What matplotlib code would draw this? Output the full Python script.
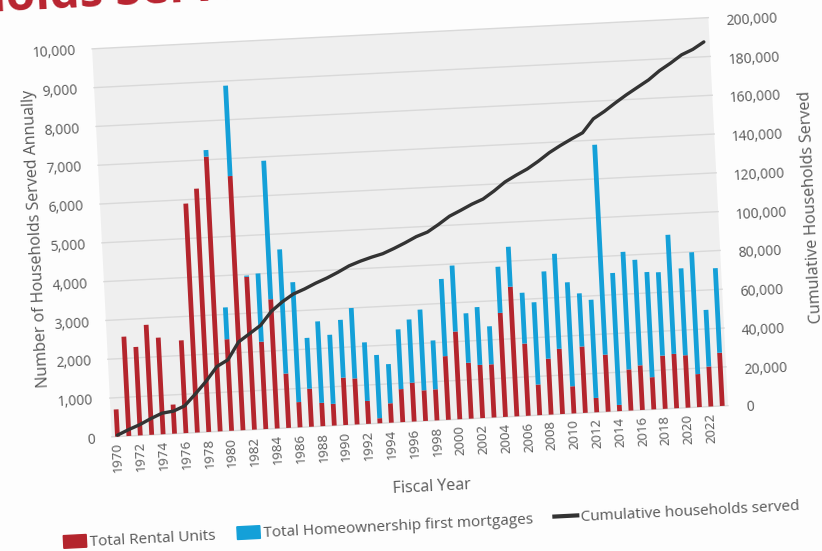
import matplotlib
matplotlib.use('Agg')
import matplotlib.pyplot as plt
import numpy as np
from matplotlib.artist import Artist
from matplotlib.ticker import FuncFormatter, MultipleLocator
from matplotlib.patches import Patch
from matplotlib.lines import Line2D
from matplotlib.text import Text
from matplotlib.transforms import Affine2D

# households served each fiscal year
years = list(range(1970, 2024))
rental = [700, 2560, 2280, 2835, 2490, 750, 2390, 5900, 6270, 7080,
          2360, 6550, 3940, 2250, 3330, 1400, 650, 980, 600, 560,
          1220, 1185, 590, 130, 500, 850, 1000, 790, 800, 1640,
          2260, 1440, 1370, 1370, 2680, 3340, 1860, 790, 1440, 1680,
          700, 1710, 370, 1470, 160, 1060, 1150, 830, 1370, 1400,
          1350, 850, 1030, 1370]
homeownership = [0, 0, 0, 0, 0, 0, 0, 0, 0, 170,
                 820, 2330, 30, 1760, 3570, 3200, 3090, 1310, 2100, 1780,
                 1490, 1815, 1510, 1630, 1010, 1540, 1630, 2080, 1260, 1990,
                 1700, 1275, 1490, 980, 1190, 1030, 1310, 2120, 2250, 2450,
                 2680, 1370, 2530, 5410, 3400, 3030, 2720, 2710, 2150, 3070,
                 2240, 3140, 1460, 2180]

RED = '#b4252d'
BLUE = '#14a0d8'
GRAY = '#595959'
TILT = 2.9  # the whole slide sits slightly askew


def tilt(fig, degrees):
    """Rotate every drawn piece of the figure about its centre."""
    fig.canvas.draw()
    w, h = fig.canvas.get_width_height()
    rot = Affine2D().rotate_deg_around(w / 2, h / 2, degrees)
    seen = set()
    for a in fig.findobj():
        if id(a) in seen or a is fig.patch:
            continue
        seen.add(id(a))
        if not isinstance(a, (Text, Line2D, Patch)):
            continue
        # plain artist transform (patches add their own patch transform on top)
        a.set_transform(Artist.get_transform(a) + rot)
        a.set_clip_on(False)
        if isinstance(a, Text):
            a.set_rotation(a.get_rotation() + degrees)


plt.rcParams['font.family'] = ['Open Sans', 'DejaVu Sans']

x = np.arange(len(years))
totals = np.array(rental) + np.array(homeownership)
cumulative = np.cumsum(totals)

fig = plt.figure(figsize=(8.22, 5.51), dpi=100)
fig.patch.set_facecolor('#fdfdfd')
ax = fig.add_axes([104 / 822, 1 - 421.5 / 551, 617 / 822, 388.5 / 551])
ax.set_facecolor('#efefef')

ax.bar(x, rental, width=0.42, color=RED, zorder=3)
ax.bar(x, homeownership, bottom=rental, width=0.42, color=BLUE, zorder=3)

ax.set_xlim(-0.5, len(years) - 0.5)
ax.set_ylim(0, 10000)
ax.yaxis.set_major_locator(MultipleLocator(1000))
ax.yaxis.set_major_formatter(FuncFormatter(lambda v, p: f'{int(v):,}'))
ax.grid(axis='y', color='#d9d9d9', linewidth=1.0, zorder=0)
ax.set_axisbelow(True)

ax.set_xticks(x[::2])
ax.set_xticklabels([str(y) for y in years[::2]], rotation=90)
ax.tick_params(axis='x', length=0, pad=4, labelsize=9.5, labelcolor=GRAY)
ax.tick_params(axis='y', length=0, pad=11.5, labelsize=10, labelcolor=GRAY)

ax.set_ylabel('Number of Households Served Annually', fontsize=11.5, color=GRAY)
ax.yaxis.set_label_coords(-0.092, 0.52)
ax.set_xlabel('Fiscal Year', fontsize=11.5, color=GRAY)
ax.xaxis.set_label_coords(0.514, -0.145)

# running total on the right-hand axis
ax2 = ax.twinx()
ax2.plot(x, cumulative, color='#333333', linewidth=2.4, solid_capstyle='round')
ax2.set_ylim(0, 200000)
ax2.yaxis.set_major_locator(MultipleLocator(20000))
ax2.yaxis.set_major_formatter(FuncFormatter(lambda v, p: f'{int(v):,}'))
ax2.tick_params(axis='y', length=0, pad=12.5, labelsize=10, labelcolor=GRAY)
ax2.set_ylabel('Cumulative Households Served', fontsize=11.5, color=GRAY)
ax2.yaxis.set_label_coords(1.138, 0.5)

for a in (ax, ax2):
    for s in a.spines.values():
        s.set_visible(False)

handles = [Patch(color=RED, label='Total Rental Units'),
           Patch(color=BLUE, label='Total Homeownership first mortgages'),
           Line2D([], [], color='#333333', linewidth=3, label='Cumulative households served')]
fig.legend(handles=handles, loc='center', bbox_to_anchor=(419 / 822, 1 - 519 / 551),
           ncol=3, frameon=False, fontsize=11, handlelength=1.5, handleheight=0.9,
           handletextpad=0.2, columnspacing=1.4, labelcolor=GRAY)

# page heading, mostly off the top edge
fig.text(-0.192, 1.017, 'Households Served', color='#b8232f', fontsize=34,
         fontweight='bold', ha='left', va='baseline', rotation_mode='anchor')

tilt(fig, TILT)
fig.savefig('out.png', dpi=100, facecolor=fig.get_facecolor())
